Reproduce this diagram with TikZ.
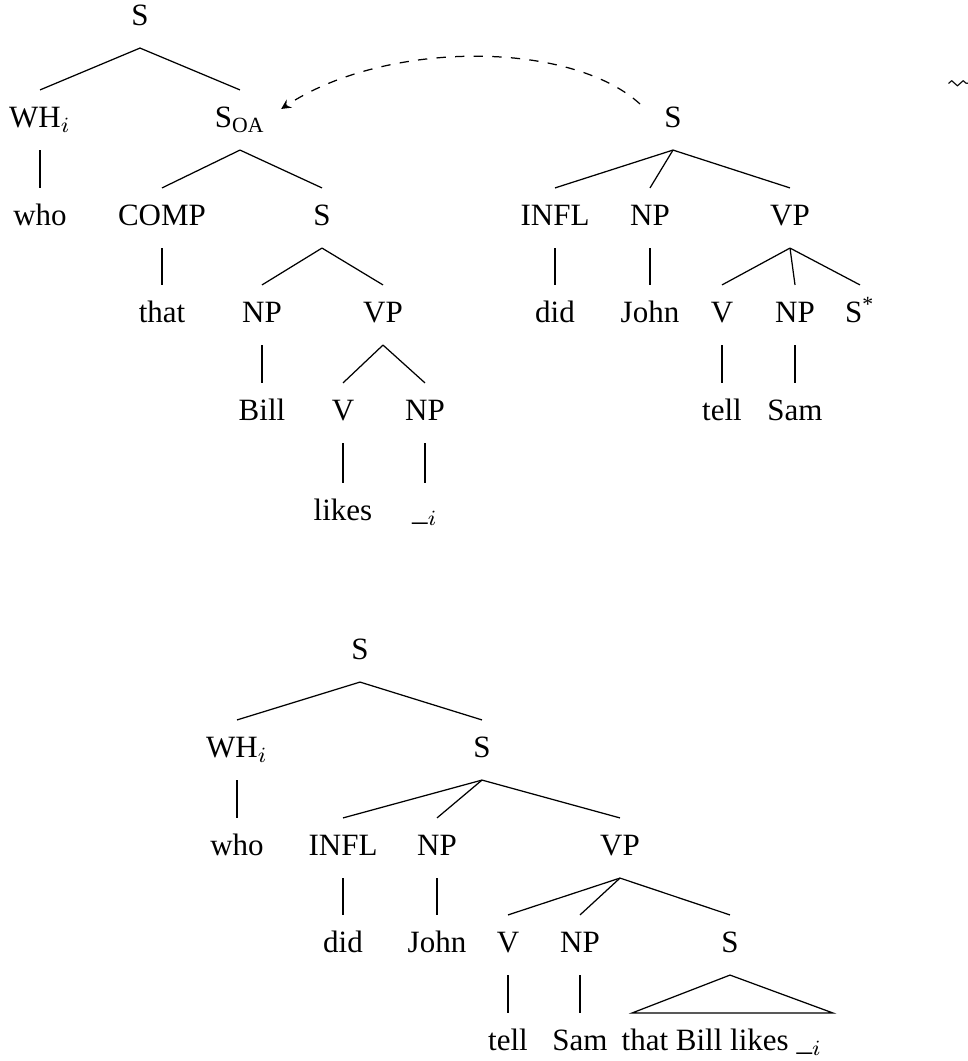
\documentclass[tikz,border=0pt]{standalone}
\usepackage{amsmath, amssymb}
\usepackage{fontspec}
\setmainfont{Liberation Serif}
\usepackage{tikz}
\usetikzlibrary{arrows.meta,calc}

\begin{document}
\begin{tikzpicture}[x=0.3226pt, y=-0.3226pt, >=stealth,
    every node/.style={inner sep=5pt, text height=7pt, text depth=2pt},
    branch/.style={line width=.4pt}]
    \useasboundingbox (0,0) rectangle (967,1061);

    % elementary tree for "who that Bill likes"
    \node (s1)   at (140,18)  {S};
    \node (wh1)  at (40,120)  {WH$_i$};
    \node (soa)  at (240,120) {S\textsubscript{OA}};
    \node (who1) at (40,218)  {who};
    \node (comp) at (162,218) {COMP};
    \node (s1b)  at (322,218) {S};
    \node (that) at (162,315) {that};
    \node (np1)  at (262,315) {NP};
    \node (vp1)  at (383,315) {VP};
    \node (bill) at (262,413) {Bill};
    \node (v1)   at (343,413) {V};
    \node (np1b) at (425,413) {NP};
    \node (likes) at (343,513) {likes};
    \node (gap)  at (425,513) {\_$_i$};
    \draw [branch] (s1.south) -- (wh1.north);
    \draw [branch] (s1.south) -- (soa.north);
    \draw [branch] (wh1.south) -- (who1.north);
    \draw [branch] (soa.south) -- (comp.north);
    \draw [branch] (soa.south) -- (s1b.north);
    \draw [branch] (comp.south) -- (that.north);
    \draw [branch] (s1b.south) -- (np1.north);
    \draw [branch] (s1b.south) -- (vp1.north);
    \draw [branch] (np1.south) -- (bill.north);
    \draw [branch] (vp1.south) -- (v1.north);
    \draw [branch] (vp1.south) -- (np1b.north);
    \draw [branch] (v1.south) -- (likes.north);
    \draw [branch] (np1b.south) -- (gap.north);

    % auxiliary tree for "did John tell Sam"
    \node (s2)   at (673,120) {S};
    \node (infl2) at (555,218) {INFL};
    \node (np2)  at (650,218) {NP};
    \node (vp2)  at (790,218) {VP};
    \node (did2) at (555,315) {did};
    \node (john2) at (650,315) {John};
    \node (v2)   at (722,315) {V};
    \node (np2b) at (795,315) {NP};
    \node (sfoot) at (860,315) {S\textsuperscript{*}};
    \node (tell2) at (722,413) {tell};
    \node (sam2) at (795,413) {Sam};
    \draw [branch] (s2.south) -- (infl2.north);
    \draw [branch] (s2.south) -- (np2.north);
    \draw [branch] (s2.south) -- (vp2.north);
    \draw [branch] (infl2.south) -- (did2.north);
    \draw [branch] (np2.south) -- (john2.north);
    \draw [branch] (vp2.south) -- (v2.north);
    \draw [branch] (vp2.south) -- (np2b.north);
    \draw [branch] (vp2.south) -- (sfoot.north);
    \draw [branch] (v2.south) -- (tell2.north);
    \draw [branch] (np2b.south) -- (sam2.north);

    % adjunction
    \coordinate (adj) at (640,104);
    \draw [branch, dashed, ->] (adj) .. controls (570,40) and (385,40) .. (soa.15);
    \node (derive) at (962,84) {$\leadsto$};

    % derived tree
    \node (s3)   at (360,652) {S};
    \node (wh3)  at (237,750) {WH$_i$};
    \node (s3b)  at (482,750) {S};
    \node (who3) at (237,848) {who};
    \node (infl3) at (343,848) {INFL};
    \node (np3)  at (437,848) {NP};
    \node (vp3)  at (620,848) {VP};
    \node (did3) at (343,945) {did};
    \node (john3) at (437,945) {John};
    \node (v3)   at (508,945) {V};
    \node (np3b) at (580,945) {NP};
    \node (s3c)  at (730,945) {S};
    \node (tell3) at (508,1043) {tell};
    \node (sam3) at (580,1043) {Sam};
    \node (rest) at (722,1043) {that Bill likes \_$_i$};
    \coordinate (bl) at (632,1013);
    \coordinate (br) at (833,1013);
    \draw [branch] (s3.south) -- (wh3.north);
    \draw [branch] (s3.south) -- (s3b.north);
    \draw [branch] (wh3.south) -- (who3.north);
    \draw [branch] (s3b.south) -- (infl3.north);
    \draw [branch] (s3b.south) -- (np3.north);
    \draw [branch] (s3b.south) -- (vp3.north);
    \draw [branch] (infl3.south) -- (did3.north);
    \draw [branch] (np3.south) -- (john3.north);
    \draw [branch] (vp3.south) -- (v3.north);
    \draw [branch] (vp3.south) -- (np3b.north);
    \draw [branch] (vp3.south) -- (s3c.north);
    \draw [branch] (v3.south) -- (tell3.north);
    \draw [branch] (np3b.south) -- (sam3.north);
    \draw [branch] (s3c.south) -- (bl) -- (br) -- cycle;
\end{tikzpicture}
\end{document}
